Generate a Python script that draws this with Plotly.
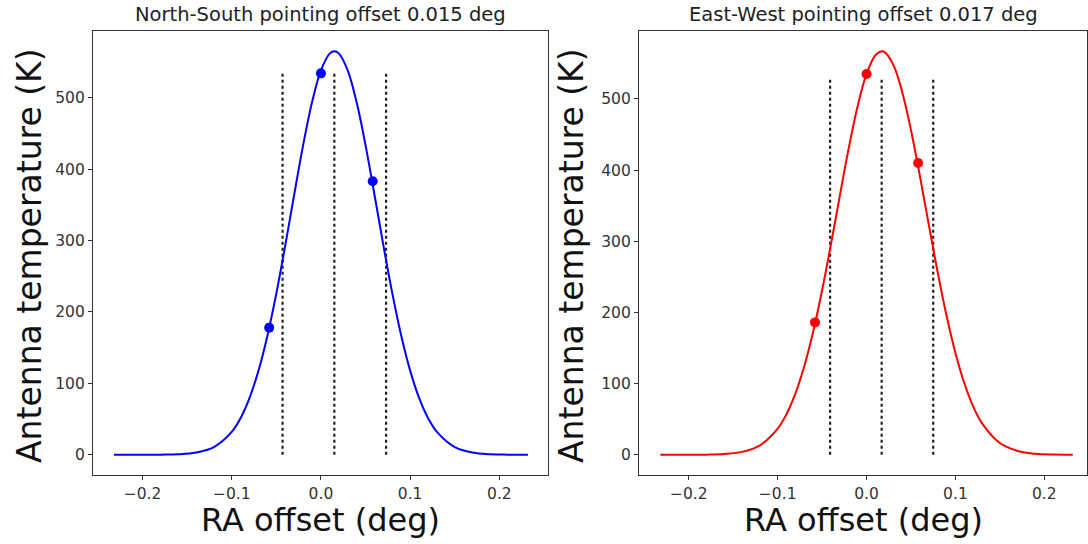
import plotly.graph_objects as go

# ---- data ----
ns_x = [-0.232, -0.20, -0.18, -0.16, -0.14, -0.12, -0.10, -0.09, -0.08, -0.07, -0.06, -0.05,
        -0.04, -0.03, -0.02, -0.01, 0.00, 0.01, 0.015, 0.02, 0.03, 0.04, 0.05, 0.06, 0.07,
        0.08, 0.09, 0.10, 0.11, 0.12, 0.13, 0.15, 0.17, 0.19, 0.21, 0.232]
ns_y = [0.0, 0.0, 0.2, 0.7, 3.1, 10.8, 32.0, 51.6, 79.7, 117.8, 166.7, 225.9,
        293.1, 364.1, 433.1, 493.4, 538.1, 562.0, 565.0, 562.0, 538.1, 493.4, 433.1, 364.1, 293.1,
        225.9, 166.7, 117.8, 79.7, 51.6, 32.0, 10.8, 3.1, 0.7, 0.2, 0.0]
ns_pts_x = [-0.058, 0.0, 0.058]
ns_pts_y = [178, 534, 383]
ns_vlines = [-0.043, 0.015, 0.073]
ns_vtop = 535

ew_x = [-0.232, -0.20, -0.18, -0.16, -0.14, -0.12, -0.10, -0.09, -0.08, -0.07, -0.06, -0.05,
        -0.04, -0.03, -0.02, -0.01, 0.00, 0.01, 0.017, 0.02, 0.03, 0.04, 0.05, 0.06, 0.07,
        0.08, 0.09, 0.10, 0.11, 0.12, 0.13, 0.15, 0.17, 0.19, 0.21, 0.232]
ew_y = [0.0, 0.1, 0.2, 1.1, 4.1, 13.3, 36.7, 57.4, 86.4, 124.8, 173.2, 231.1,
        296.1, 364.5, 431.2, 490.1, 535.1, 561.4, 567.0, 566.0, 548.2, 510.1, 456.0, 391.7, 323.3,
        256.3, 195.3, 142.9, 100.5, 67.9, 44.1, 16.5, 5.3, 1.4, 0.3, 0.1]
ew_pts_x = [-0.058, 0.0, 0.058]
ew_pts_y = [186, 535, 410]
ew_vlines = [-0.041, 0.017, 0.075]
ew_vtop = 528

titles = ["North-South pointing offset 0.015 deg", "East-West pointing offset 0.017 deg"]
xlabel = "RA offset (deg)"
ylabel = "Antenna temperature (K)"
xticks = [-0.2, -0.1, 0.0, 0.1, 0.2]
xticklabels = ["\u22120.2", "\u22120.1", "0.0", "0.1", "0.2"]
yticks = [0, 100, 200, 300, 400, 500]

FONT = "DejaVu Sans"
fig = go.Figure()

panels = [
    (ns_x, ns_y, ns_pts_x, ns_pts_y, ns_vlines, ns_vtop, "#0000ff", "x", "y"),
    (ew_x, ew_y, ew_pts_x, ew_pts_y, ew_vlines, ew_vtop, "#ff0000", "x2", "y2"),
]
for cx, cy, px, py, vl, vtop, col, xa, ya in panels:
    for v in vl:
        fig.add_trace(go.Scatter(x=[v, v], y=[0, vtop], mode="lines",
                                 line=dict(color="#222222", width=2.2, dash="dot"),
                                 xaxis=xa, yaxis=ya, showlegend=False, hoverinfo="skip"))
    fig.add_trace(go.Scatter(x=cx, y=cy, mode="lines", line=dict(color=col, width=2, shape="spline"),
                             xaxis=xa, yaxis=ya, showlegend=False))
    fig.add_trace(go.Scatter(x=px, y=py, mode="markers", marker=dict(color=col, size=10),
                             xaxis=xa, yaxis=ya, showlegend=False))

axis_common = dict(showgrid=False, zeroline=False, showline=True, mirror=True,
                   linecolor="#333333", linewidth=1.3, ticks="outside", ticklen=4,
                   tickcolor="#333333", tickfont=dict(family=FONT, size=15.5, color="#333333"))

fig.update_layout(
    width=1088, height=544, margin=dict(l=0, r=0, t=0, b=0),
    paper_bgcolor="white", plot_bgcolor="white",
    xaxis=dict(domain=[93/1088, 548/1088], range=[-0.2555, 0.2545], anchor="y",
               tickvals=xticks, ticktext=xticklabels, **axis_common),
    yaxis=dict(domain=[1-475/544, 1-31/544], range=[-28.3, 593.3], anchor="x",
               tickvals=yticks, **axis_common),
    xaxis2=dict(domain=[639/1088, 1087/1088], range=[-0.256, 0.248], anchor="y2",
                tickvals=xticks, ticktext=xticklabels, **axis_common),
    yaxis2=dict(domain=[1-475/544, 1-31/544], range=[-28.4, 595.4], anchor="x2",
                tickvals=yticks, **axis_common),
)

ann = []
for xc, t in [((93+548)/2/1088, titles[0]), ((639+1087)/2/1088, titles[1])]:
    ann.append(dict(x=xc, y=1-14/544, xref="paper", yref="paper", text=t, showarrow=False,
                    font=dict(family=FONT, size=19.5, color="#222222"), xanchor="center", yanchor="middle"))
for xc in [(93+548)/2/1088, (639+1087)/2/1088]:
    ann.append(dict(x=xc, y=1-520/544, xref="paper", yref="paper", text=xlabel, showarrow=False,
                    font=dict(family=FONT, size=32, color="#111111"), xanchor="center", yanchor="middle"))
for xc in [29/1088, 571/1088]:
    ann.append(dict(x=xc, y=1-256/544, xref="paper", yref="paper", text=ylabel, showarrow=False,
                    textangle=-90, font=dict(family=FONT, size=33, color="#111111"),
                    xanchor="center", yanchor="middle"))
fig.update_layout(annotations=ann)

fig.write_html("out.html")
